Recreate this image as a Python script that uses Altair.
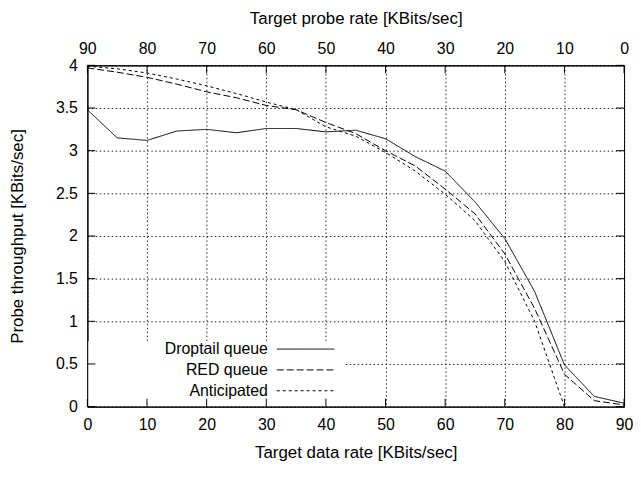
import altair as alt
import pandas as pd

# ---- data ----
x_rate = [0, 5, 10, 15, 20, 25, 30, 35, 40, 45, 50, 55, 60, 65, 70, 75, 80, 85, 90]
droptail = [3.48, 3.15, 3.12, 3.23, 3.25, 3.21, 3.26, 3.26, 3.22, 3.24, 3.14, 2.93, 2.76, 2.40, 1.97, 1.35, 0.49, 0.12, 0.04]
red = [3.97, 3.92, 3.86, 3.78, 3.69, 3.62, 3.53, 3.48, 3.33, 3.20, 3.00, 2.82, 2.55, 2.26, 1.79, 1.15, 0.38, 0.07, 0.02]
x_ant = [0, 5, 10, 15, 20, 25, 30, 35, 40, 45, 50, 55, 60, 65, 70, 75, 80]
anticipated = [3.99, 3.96, 3.91, 3.84, 3.76, 3.67, 3.57, 3.48, 3.28, 3.17, 2.98, 2.76, 2.49, 2.18, 1.70, 1.00, 0.0]

series_names = ["Droptail queue", "RED queue", "Anticipated"]
x_ticks = list(range(0, 91, 10))
y_ticks = [0, 0.5, 1, 1.5, 2, 2.5, 3, 3.5, 4]

# ---- styles ----
W, H = 541, 344
FONT = "Liberation Sans"
FS = 16
TFS = 17
TICK = 8
dashes = {"Droptail queue": [1, 0], "RED queue": [7, 3], "Anticipated": [3, 3]}

rows = []
for xv, yv in zip(x_rate, droptail):
    rows.append({"x": xv, "y": yv, "s": "Droptail queue"})
for xv, yv in zip(x_rate, red):
    rows.append({"x": xv, "y": yv, "s": "RED queue"})
for xv, yv in zip(x_ant, anticipated):
    rows.append({"x": xv, "y": yv, "s": "Anticipated"})
df = pd.DataFrame(rows)

xscale = alt.Scale(domain=[0, 90], nice=False, zero=False)
yscale = alt.Scale(domain=[0, 4], nice=False)

grid_kw = dict(grid=True, gridColor="#000000", gridDash=[1.5, 2.5], gridWidth=1, gridOpacity=0.85)

y_axis = alt.Axis(values=y_ticks, format="~g", title="Probe throughput [KBits/sec]",
                  ticks=False, labelPadding=10, titlePadding=29, labelFlush=False, **grid_kw)

# base layer with bottom/left axes and grid
base = alt.Chart(df).mark_line(color="black", strokeWidth=1, clip=True).encode(
    x=alt.X("x:Q", scale=xscale,
            axis=alt.Axis(values=x_ticks, title="Target data rate [KBits/sec]", ticks=False,
                          labelFlush=False, labelPadding=10, titlePadding=12, **grid_kw)),
    y=alt.Y("y:Q", scale=yscale, axis=y_axis),
    strokeDash=alt.StrokeDash("s:N", scale=alt.Scale(domain=series_names,
                                                    range=[dashes[n] for n in series_names]),
                              legend=None),
    detail="s:N",
)

# white legend box covering the grid
legend_box = alt.Chart(pd.DataFrame({"a": [0]})).mark_rect(color="white").encode(
    x=alt.value(1), x2=alt.value(259), y=alt.value(278), y2=alt.value(H - 1)
)

xt = pd.DataFrame({"t": x_ticks})
yt = pd.DataFrame({"t": y_ticks})

x_bottom_ticks = alt.Chart(xt).mark_rule(color="black", strokeWidth=1).encode(
    x=alt.X("t:Q", scale=xscale, axis=None), y=alt.value(H), y2=alt.value(H - TICK)
)
x_top_ticks = alt.Chart(xt).mark_rule(color="black", strokeWidth=1).encode(
    x=alt.X("t:Q", scale=xscale,
            axis=alt.Axis(orient="top", values=x_ticks, labelExpr="90 - datum.value",
                          title="Target probe rate [KBits/sec]", ticks=False, grid=False,
                          labelFlush=False, labelPadding=9, titlePadding=13)),
    y=alt.value(0), y2=alt.value(TICK)
)
y_left_ticks = alt.Chart(yt).mark_rule(color="black", strokeWidth=1).encode(
    y=alt.Y("t:Q", scale=yscale, axis=y_axis), x=alt.value(0), x2=alt.value(TICK)
)
y_right_ticks = alt.Chart(yt).mark_rule(color="black", strokeWidth=1).encode(
    y=alt.Y("t:Q", scale=yscale, axis=y_axis), x=alt.value(W), x2=alt.value(W - TICK)
)

# manual legend: label then line sample
legend_layers = []
for i, name in enumerate(series_names):
    yy = 286 + i * 21
    legend_layers.append(
        alt.Chart(pd.DataFrame({"s": [name]})).mark_text(
            align="right", baseline="middle", font=FONT, fontSize=FS, color="black"
        ).encode(text="s:N", x=alt.value(182), y=alt.value(yy))
    )
    legend_layers.append(
        alt.Chart(pd.DataFrame({"s": [name]})).mark_rule(
            color="black", strokeWidth=1, strokeDash=dashes[name]
        ).encode(x=alt.value(191), x2=alt.value(249), y=alt.value(yy))
    )

chart = alt.layer(
    base, legend_box, x_bottom_ticks, x_top_ticks, y_left_ticks, y_right_ticks, *legend_layers
).resolve_axis(x="independent").properties(
    width=W, height=H, padding=0
).configure_view(
    stroke="black", strokeWidth=1
).configure_axis(
    domainColor="black", domainWidth=1, labelFont=FONT, titleFont=FONT,
    labelFontSize=FS, titleFontSize=TFS, labelColor="black", titleColor="black",
    titleFontWeight="normal"
)

chart.save("out.html", embed_options={"renderer": "svg", "actions": False})
